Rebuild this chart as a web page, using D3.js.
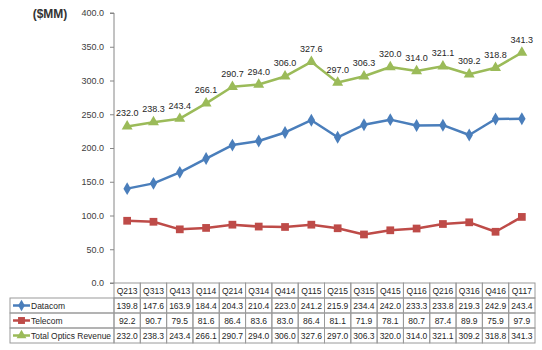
<!DOCTYPE html>
<html><head><meta charset="utf-8">
<script src="https://cdn.jsdelivr.net/npm/d3@7"></script>
<style>body{margin:0;background:#fff}svg{display:block}</style>
</head><body>
<svg id="c" width="542" height="350"></svg>
<script>
const categories=["Q213","Q313","Q413","Q114","Q214","Q314","Q414","Q115","Q215","Q315","Q415","Q116","Q216","Q316","Q416","Q117"];
const datacom=[139.8,147.6,163.9,184.4,204.3,210.4,223.0,241.2,215.9,234.4,242.0,233.3,233.8,219.3,242.9,243.4];
const telecom=[92.2,90.7,79.5,81.6,86.4,83.6,83.0,86.4,81.1,71.9,78.1,80.7,87.4,89.9,75.9,97.9];
const total=[232.0,238.3,243.4,266.1,290.7,294.0,306.0,327.6,297.0,306.3,320.0,314.0,321.1,309.2,318.8,341.3];
const yTicks=[0,50,100,150,200,250,300,350,400];
const seriesNames=["Datacom","Telecom","Total Optics Revenue"];

const svg=d3.select("#c");
const font="'Liberation Sans', Arial, sans-serif";
const x0=114,x1=535,yTop=13,yBot=283;
const x=d3.scaleBand().domain(categories).range([x0,x1]);
const y=d3.scaleLinear().domain([0,400]).range([yBot,yTop]);
const series=[
 {name:seriesNames[0],vals:datacom,color:"#4A7EBB",shape:d3.symbolDiamond,size:48},
 {name:seriesNames[1],vals:telecom,color:"#BE4B48",shape:d3.symbolSquare,size:60},
 {name:seriesNames[2],vals:total,color:"#9BBB59",shape:d3.symbolTriangle,size:52}
];

// y axis
const ax=svg.append("g").attr("transform",`translate(${x0},0)`)
 .call(d3.axisLeft(y).tickValues(yTicks).tickFormat(d3.format(".1f")).tickSize(4).tickPadding(6));
ax.select(".domain").attr("stroke","#868686").attr("d",`M-4,${yTop}H0V${yBot}H-4`);
ax.selectAll(".tick line").attr("stroke","#868686");
ax.selectAll("text").attr("font-family",font).attr("font-size",9).attr("fill","#404040");

svg.append("text").attr("x",50).attr("y",18).attr("text-anchor","middle")
 .attr("font-family",font).attr("font-size",12).attr("font-weight","bold").attr("fill","#333").text("($MM)");

// lines
const cx=d=>x(d)+x.bandwidth()/2;
series.forEach(s=>{
 const line=d3.line().x((d,i)=>cx(categories[i])).y(d=>y(d));
 svg.append("path").datum(s.vals).attr("d",line).attr("fill","none")
  .attr("stroke",s.color).attr("stroke-width",2.5).attr("stroke-linejoin","round");
 svg.append("g").selectAll("path").data(s.vals).join("path")
  .attr("transform",(d,i)=>`translate(${cx(categories[i])},${y(d)})`)
  .attr("d",d3.symbol().type(s.shape).size(s.size)).attr("fill",s.color);
});
// data labels for total
svg.append("g").selectAll("text").data(total).join("text")
 .attr("x",(d,i)=>cx(categories[i])).attr("y",d=>y(d)-10)
 .attr("text-anchor","middle").attr("font-family",font).attr("font-size",9).attr("fill","#262626")
 .text(d=>d3.format(".1f")(d));

// table
const rowH=15, tTop=283, legL=10;
const tb=svg.append("g");
const stroke="#9a9a9a";
categories.forEach(c=>{
 tb.append("rect").attr("x",x(c)).attr("y",tTop).attr("width",x.bandwidth()).attr("height",rowH)
  .attr("fill","none").attr("stroke",stroke).attr("stroke-width",1);
 tb.append("text").attr("x",cx(c)).attr("y",tTop+rowH/2+3.5).attr("text-anchor","middle")
  .attr("font-family",font).attr("font-size",8.5).attr("fill","#262626").text(c);
});
series.forEach((s,r)=>{
 const ry=tTop+rowH*(r+1);
 tb.append("rect").attr("x",legL).attr("y",ry).attr("width",x0-legL).attr("height",rowH)
  .attr("fill","none").attr("stroke",stroke);
 tb.append("line").attr("x1",legL+3).attr("x2",legL+20).attr("y1",ry+rowH/2).attr("y2",ry+rowH/2)
  .attr("stroke",s.color).attr("stroke-width",2.5);
 tb.append("path").attr("transform",`translate(${legL+11.5},${ry+rowH/2})`)
  .attr("d",d3.symbol().type(s.shape).size(s.size*0.8)).attr("fill",s.color);
 const t=tb.append("text").attr("x",legL+21).attr("y",ry+rowH/2+3.5).attr("font-family",font)
  .attr("font-size",8.5).attr("fill","#262626").text(s.name);
 const maxW=x0-legL-24;
 if(t.node().getComputedTextLength()>maxW) t.attr("textLength",maxW).attr("lengthAdjust","spacingAndGlyphs");
 s.vals.forEach((v,i)=>{
  const c=categories[i];
  tb.append("rect").attr("x",x(c)).attr("y",ry).attr("width",x.bandwidth()).attr("height",rowH)
   .attr("fill","none").attr("stroke",stroke);
  tb.append("text").attr("x",cx(c)).attr("y",ry+rowH/2+3.5).attr("text-anchor","middle")
   .attr("font-family",font).attr("font-size",8.5).attr("fill","#262626").text(d3.format(".1f")(v));
 });
});
</script>
</body></html>
